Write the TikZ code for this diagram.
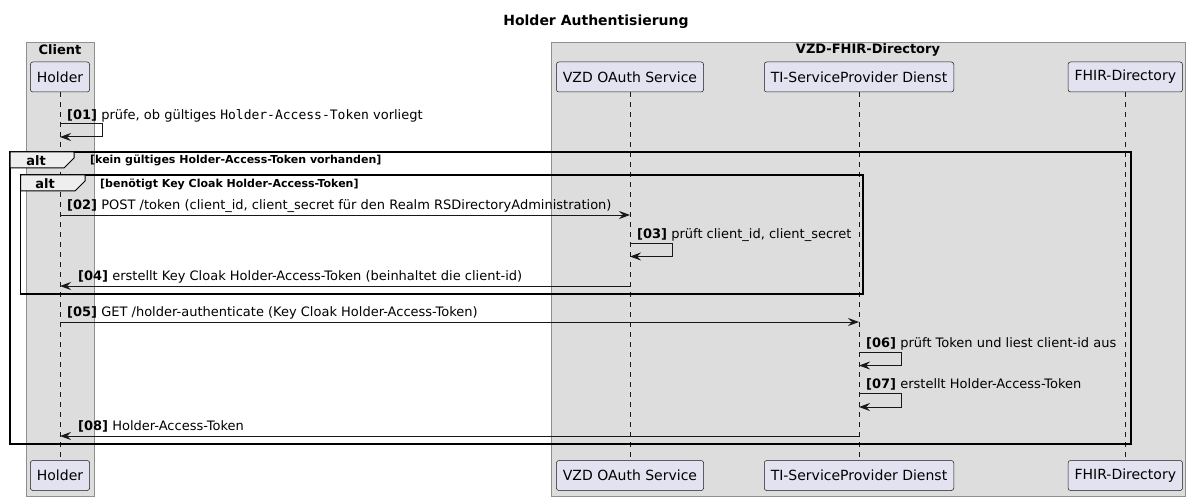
\documentclass[tikz,border=0pt]{standalone}
\usepackage{fontspec}
\setmainfont{DejaVu Sans}
\setmonofont{DejaVu Sans Mono}
\usetikzlibrary{arrows.meta}
\definecolor{partfill}{HTML}{E2E2F0}
\definecolor{partline}{HTML}{181818}
\definecolor{boxfill}{HTML}{DDDDDD}
\definecolor{boxline}{HTML}{8F8F8F}
\definecolor{tabfill}{HTML}{EEEEEE}
\begin{document}
\begin{tikzpicture}[x=1pt,y=-1pt,
  part/.style={draw=partline, line width=0.5pt, fill=partfill, rounded corners=2.5pt,
    minimum height=30pt, inner xsep=6.5pt, inner ysep=0pt, font=\fontsize{14}{16}\selectfont},
  grp/.style={draw=boxline, line width=1pt, fill=boxfill},
  grplabel/.style={font=\fontsize{13}{15}\selectfont\bfseries, inner sep=0pt},
  lifeline/.style={draw=partline, line width=0.5pt, dash pattern=on 5pt off 5pt},
  msg/.style={draw=partline, line width=1pt, -{Stealth[length=11pt,width=8pt,inset=4pt]}},
  msgtext/.style={font=\fontsize{13}{15}\selectfont, anchor=base west, inner sep=0pt},
  frame/.style={draw=black, line width=1.5pt},
  tab/.style={draw=black, line width=1pt, fill=tabfill},
  altlabel/.style={font=\fontsize{13}{15}\selectfont\bfseries, inner sep=0pt},
  condlabel/.style={font=\fontsize{11}{13}\selectfont\bfseries, anchor=base west, inner sep=0pt}
]
\useasboundingbox (0,0) rectangle (1192,500);
\fill[white] (0,0) rectangle (1192,500);

% title
\node[font=\fontsize{14}{16}\selectfont\bfseries] (title) at (596,22) {Holder Authentisierung};

% group boxes
\path[grp] (26,43) rectangle (94,496);
\node[grplabel] (clientlbl) at (60,50) {Client};
\path[grp] (551,43) rectangle (1185,496);
\node[grplabel] (vzdlbl) at (868,50) {VZD-FHIR-Directory};

% participants
\node[part] (h) at (60,77) {Holder};
\node[part] (o) at (630,77) {VZD OAuth Service};
\node[part] (t) at (859,77) {TI-ServiceProvider Dienst};
\node[part] (f) at (1125.3,77) {FHIR-Directory};
\node[part] (hb) at (60,475.5) {Holder};
\node[part] (ob) at (630,475.5) {VZD OAuth Service};
\node[part] (tb) at (859,475.5) {TI-ServiceProvider Dienst};
\node[part] (fb) at (1125.3,475.5) {FHIR-Directory};

% lifelines
\draw[lifeline] (h.south) -- (hb.north);
\draw[lifeline] (o.south) -- (ob.north);
\draw[lifeline] (t.south) -- (tb.north);
\draw[lifeline] (f.south) -- (fb.north);

% alt frames
\draw[frame] (10,152) rectangle (1131,444);
\draw[tab] (10,152) -- (74,152) -- (74,158) -- (64,168) -- (10,168) -- cycle;
\node[altlabel] (alt1) at (36,160.5) {alt};
\node[condlabel] (cond1) at (90,164) {[kein gültiges Holder-Access-Token vorhanden]};

\draw[frame] (20.5,175) rectangle (863,294);
\draw[tab] (20.5,175) -- (85,175) -- (85,181) -- (75,191) -- (20.5,191) -- cycle;
\node[altlabel] (alt2) at (45,183.5) {alt};
\node[condlabel] (cond2) at (100,187) {[benötigt Key Cloak Holder-Access-Token]};

% message anchor points
\coordinate (m1a) at (60,124);
\coordinate (m1b) at (60,137);
\coordinate (m2a) at (60,215);
\coordinate (m2b) at (630,215);
\coordinate (m3a) at (630,243);
\coordinate (m3b) at (630,256.5);
\coordinate (m4a) at (630,286);
\coordinate (m4b) at (60,286);
\coordinate (m5a) at (60,322);
\coordinate (m5b) at (859,322);
\coordinate (m6a) at (859,352);
\coordinate (m6b) at (859,365.5);
\coordinate (m7a) at (859,393.5);
\coordinate (m7b) at (859,407);
\coordinate (m8a) at (859,436);
\coordinate (m8b) at (60,436);

% messages
\draw[msg] (m1a) -- ++(42,0) |- (m1b);
\node[msgtext] (t1) at (67,119.5) {\textbf{[01]} prüfe, ob gültiges \texttt{Holder-Access-Token} vorliegt};

\draw[msg] (m2a) -- (m2b);
\node[msgtext] (t2) at (67,209.5) {\textbf{[02]} POST /token (client\_id, client\_secret für den Realm RSDirectoryAdministration)};

\draw[msg] (m3a) -- ++(42,0) |- (m3b);
\node[msgtext] (t3) at (637,238) {\textbf{[03]} prüft client\_id, client\_secret};

\draw[msg] (m4a) -- (m4b);
\node[msgtext] (t4) at (78,280.5) {\textbf{[04]} erstellt Key Cloak Holder-Access-Token (beinhaltet die client-id)};

\draw[msg] (m5a) -- (m5b);
\node[msgtext] (t5) at (67,316.5) {\textbf{[05]} GET /holder-authenticate (Key Cloak Holder-Access-Token)};

\draw[msg] (m6a) -- ++(42,0) |- (m6b);
\node[msgtext] (t6) at (866,347) {\textbf{[06]} prüft Token und liest client-id aus};

\draw[msg] (m7a) -- ++(42,0) |- (m7b);
\node[msgtext] (t7) at (866,388.5) {\textbf{[07]} erstellt Holder-Access-Token};

\draw[msg] (m8a) -- (m8b);
\node[msgtext] (t8) at (78,430.5) {\textbf{[08]} Holder-Access-Token};
\end{tikzpicture}
\end{document}
